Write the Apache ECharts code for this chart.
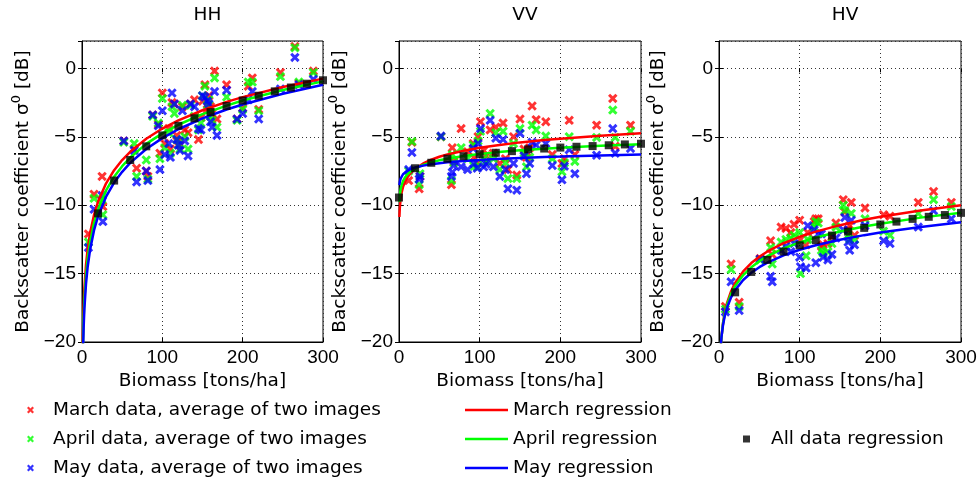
<!DOCTYPE html>
<html><head><meta charset="utf-8">
<script src="https://cdn.jsdelivr.net/npm/echarts@6/dist/echarts.min.js"></script>
<style>html,body{margin:0;padding:0;background:#fff}#c{width:980px;height:486px}</style>
</head><body><div id="c"></div>
<script>
// ---- data ----
const panelTitles = ['HH', 'VV', 'HV'];
const xTickLabels = ['0', '100', '200', '300'];
const yTickLabels = ['-20', '-15', '-10', '-5', '0'];
const seriesNames = ['March data, average of two images', 'April data, average of two images', 'May data, average of two images'];
const regNames = ['March regression', 'April regression', 'May regression'];
const allName = 'All data regression';

const hhX   = [8,15,25,26,52,65,68,80,82,88,95,97,100,103,108,110,112,115,120,125,128,132,135,140,145,150,153,156,160,165,168,180,193,200,207,212,220,247,265,270,288,118,122,148,158,162];
const hhMar = [-12.1,-9.2,-7.9,-10.1,-5.3,-5.9,-7.3,-7.5,-7.9,-3.4,-4.1,-6.2,-1.8,-5.5,-4.4,-5.9,-2.5,-2.6,-5.3,-2.8,-4.5,-4.7,-2.6,-2.3,-5.2,-2.4,-1.2,-3.0,-2.8,-0.2,-3.7,-1.2,-3.7,-2.9,-1.3,-0.7,-3.0,-0.3,1.6,-1.1,-0.2,-4.9,-5.6,-3.6,-2.0,-3.3];
const hhApr = [-12.7,-9.5,-9.6,-10.7,-5.4,-5.5,-7.9,-6.7,-8.1,-3.5,-4.0,-6.6,-2.2,-5.8,-4.7,-6.2,-2.8,-3.3,-5.6,-2.7,-5.0,-5.9,-2.7,-3.5,-4.5,-2.0,-1.3,-2.7,-3.5,-0.7,-4.3,-2.1,-3.8,-3.0,-1.0,-1.0,-3.1,-0.6,1.5,-1.0,-0.3,-5.2,-5.9,-4.0,-2.3,-3.8];
const hhMay = [-13.1,-10.3,-9.3,-11.2,-5.3,-6.0,-8.3,-7.5,-8.2,-3.4,-4.2,-7.4,-3.1,-6.3,-5.5,-6.5,-1.8,-2.6,-5.6,-3.1,-5.3,-6.4,-2.6,-2.8,-4.4,-2.0,-2.1,-2.4,-3.9,-1.7,-4.9,-1.6,-3.7,-3.3,-2.3,-1.7,-3.7,-1.5,0.8,-1.2,-0.8,-5.2,-6.0,-4.5,-2.6,-4.3];

const vvX   = [12,16,25,26,52,65,66,68,77,85,92,93,98,101,105,113,117,120,125,129,135,142,146,150,158,162,165,170,182,190,202,205,211,218,245,265,268,287,108,132,155,97];
const vvMar = [-8.2,-5.4,-8.8,-7.9,-5.0,-8.5,-5.8,-6.8,-4.4,-6.1,-5.5,-6.5,-5.0,-3.9,-6.0,-4.5,-6.2,-4.3,-6.95,-4.0,-7.4,-5.0,-7.8,-3.7,-6.5,-5.8,-2.75,-3.75,-3.9,-6.3,-6.95,-6.6,-3.8,-6.3,-4.15,-2.2,-5.7,-4.15,-6.4,-6.6,-5.9,-6.9];
const vvApr = [-7.5,-5.35,-8.5,-7.7,-5.0,-8.2,-6.3,-6.9,-5.8,-6.6,-5.6,-7.15,-5.3,-4.6,-6.6,-3.3,-6.6,-4.7,-7.4,-4.6,-8.05,-5.5,-8.05,-4.4,-7.2,-6.5,-4.15,-4.5,-4.95,-6.6,-7.55,-6.9,-5.0,-6.8,-5.05,-3.05,-5.05,-4.6,-6.8,-6.9,-6.2,-7.2];
const vvMay = [-7.4,-6.15,-8.1,-7.9,-4.95,-7.9,-7.6,-7.1,-7.2,-7.4,-5.85,-6.95,-5.5,-4.4,-7.2,-3.8,-7.2,-5.1,-7.9,-5.2,-8.8,-6.95,-8.9,-4.75,-7.7,-6.95,-5.4,-5.6,-5.5,-7.1,-8.15,-7.15,-5.95,-7.7,-6.35,-4.4,-6.2,-5.85,-7.0,-7.4,-6.4,-7.3];

const hvX   = [8,15,25,51,64,66,77,83,89,93,100,101,108,110,118,120,123,127,129,135,140,145,154,156,160,162,164,168,181,204,212,247,266,288];
const hvMar = [-17.4,-14.3,-17.1,-13.9,-12.6,-13.6,-11.6,-11.7,-12.0,-11.4,-11.1,-12.5,-12.9,-12.0,-11.2,-11.0,-11.0,-13.0,-12.9,-12.8,-12.3,-11.3,-9.6,-10.5,-11.8,-11.5,-9.8,-12.2,-10.2,-10.7,-10.8,-9.8,-9.0,-9.8];
const hvApr = [-17.6,-14.7,-17.4,-14.0,-13.1,-14.3,-12.7,-12.5,-12.4,-12.2,-12.0,-15.0,-13.7,-12.5,-11.6,-11.2,-11.3,-13.3,-13.5,-13.4,-12.8,-11.6,-10.0,-10.4,-12.2,-12.5,-10.6,-12.5,-11.0,-11.9,-12.2,-10.6,-9.6,-10.1];
const hvMay = [-17.8,-15.6,-17.7,-13.95,-15.2,-15.6,-13.3,-13.0,-13.4,-12.8,-13.8,-14.5,-14.6,-11.5,-11.8,-14.2,-12.1,-12.1,-13.8,-14.0,-13.6,-12.4,-11.8,-10.9,-12.7,-13.3,-11.1,-12.9,-11.5,-12.6,-12.8,-11.6,-10.4,-11.0];

const regX = [0.5,1,2,3,5,7,10,15,20,30,40,50,60,80,100,120,150,180,200,250,300];
const hhRegMar = [-21.99,-19.69,-17.39,-16.04,-14.35,-13.23,-12.05,-10.70,-9.74,-8.40,-7.44,-6.70,-6.10,-5.14,-4.40,-3.80,-3.06,-2.45,-2.10,-1.36,-0.75];
const hhRegApr = [-23.08,-20.68,-18.29,-16.88,-15.12,-13.95,-12.72,-11.31,-10.32,-8.92,-7.92,-7.15,-6.52,-5.52,-4.75,-4.12,-3.35,-2.72,-2.35,-1.58,-0.95];
const hhRegMay = [-23.91,-21.45,-18.99,-17.55,-15.74,-14.54,-13.28,-11.83,-10.81,-9.37,-8.35,-7.56,-6.91,-5.89,-5.10,-4.45,-3.66,-3.01,-2.64,-1.85,-1.20];
const vvRegMar = [-10.86,-10.2,-9.54,-9.15,-8.66,-8.34,-8.0,-7.61,-7.34,-6.95,-6.68,-6.46,-6.29,-6.02,-5.80,-5.63,-5.41,-5.24,-5.14,-4.93,-4.75];
const vvRegApr = [-9.76,-9.3,-8.84,-8.57,-8.24,-8.02,-7.78,-7.51,-7.32,-7.06,-6.87,-6.72,-6.60,-6.41,-6.26,-6.14,-5.99,-5.87,-5.80,-5.66,-5.54];
const vvRegMay = [-8.54,-8.3,-8.06,-7.92,-7.74,-7.62,-7.49,-7.35,-7.25,-7.11,-7.01,-6.93,-6.87,-6.77,-6.69,-6.62,-6.55,-6.48,-6.45,-6.37,-6.30];
const hvRegMar = [-23.44,-21.98,-20.52,-19.67,-18.6,-17.89,-17.14,-16.29,-15.69,-14.84,-14.23,-13.77,-13.38,-12.78,-12.31,-11.93,-11.46,-11.07,-10.85,-10.39,-10.0];
const hvRegApr = [-23.21,-21.84,-20.47,-19.66,-18.65,-17.99,-17.28,-16.48,-15.91,-15.11,-14.54,-14.09,-13.73,-13.16,-12.72,-12.36,-11.92,-11.56,-11.35,-10.91,-10.55];
const hvRegMay = [-22.96,-21.69,-20.42,-19.68,-18.75,-18.13,-17.48,-16.73,-16.21,-15.47,-14.94,-14.53,-14.2,-13.67,-13.26,-12.93,-12.52,-12.19,-12.0,-11.59,-11.25];

const allX  = [0,20,40,60,80,100,120,140,160,180,200,220,240,260,280,300];
const hhAll = [null,-10.6,-8.2,-6.7,-5.7,-4.9,-4.2,-3.65,-3.2,-2.75,-2.35,-2.0,-1.68,-1.4,-1.12,-0.87];
const vvAll = [-9.44,-7.3,-6.9,-6.6,-6.42,-6.27,-6.17,-6.05,-5.92,-5.86,-5.79,-5.73,-5.68,-5.62,-5.56,-5.51];
const hvAll = [null,-16.37,-14.88,-14.0,-13.39,-12.93,-12.56,-12.22,-11.93,-11.66,-11.41,-11.2,-11.0,-10.85,-10.72,-10.56];

// ---- build ----
const TFONT = "'DejaVu Sans', 'Liberation Sans', sans-serif";
const NFONT = "'Liberation Sans', Arial, Helvetica, sans-serif";
const TS = 18.5, NS = 19;
const colors = ['#ff0000', '#00ff00', '#0000ff'];
const XSYM = 'path://M0,2.2L2.2,0L5,2.8L7.8,0L10,2.2L7.2,5L10,7.8L7.8,10L5,7.2L2.2,10L0,7.8L2.8,5Z';
const zip = (xs, ys) => xs.map((x, i) => [x, ys[i]]);
const minus = v => String(v).replace('-', '\u2212');

const panels = [
  {x: hhX, d: [hhMar, hhApr, hhMay], r: [hhRegMar, hhRegApr, hhRegMay], a: hhAll},
  {x: vvX, d: [vvMar, vvApr, vvMay], r: [vvRegMar, vvRegApr, vvRegMay], a: vvAll},
  {x: hvX, d: [hvMar, hvApr, hvMay], r: [hvRegMar, hvRegApr, hvRegMay], a: hvAll}
];
const gridLefts = [82, 399, 719];
const gridWidths = [241, 242, 242];
const nameGaps = [46, 46, 48];

const grids = [], xAxes = [], yAxes = [], titles = [], series = [];
const tickStyle = {show: true, inside: true, length: 4, lineStyle: {color: '#000', width: 1}};
panels.forEach((p, i) => {
  grids.push({left: gridLefts[i], top: 41, width: gridWidths[i], height: 301, show: true,
    borderColor: '#000', borderWidth: 1, backgroundColor: 'transparent'});
  titles.push({text: panelTitles[i], left: gridLefts[i] + gridWidths[i] / 2, top: 1, textAlign: 'center',
    textStyle: {fontFamily: TFONT, fontSize: TS, fontWeight: 'normal', color: '#000'}});
  xAxes.push({type: 'value', gridIndex: i, min: 0, max: 300, interval: 100, position: 'bottom',
    name: 'Biomass [tons/ha]', nameLocation: 'middle', nameGap: 27,
    nameTextStyle: {fontFamily: TFONT, fontSize: TS, color: '#000'},
    axisLine: {show: true, onZero: false, lineStyle: {color: '#000'}},
    axisTick: tickStyle,
    axisLabel: {fontFamily: NFONT, fontSize: NS, color: '#000', margin: 6,
      formatter: v => xTickLabels[Math.round(v / 100)]},
    splitLine: {show: true, lineStyle: {type: [1, 3], color: '#333', width: 1}}});
  yAxes.push({type: 'value', gridIndex: i, min: -20, max: 2, interval: 5, position: 'left',
    name: '{n|Backscatter coefficient σ}{s|0}{n| [dB]}', nameLocation: 'middle', nameGap: nameGaps[i],
    nameTextStyle: {fontFamily: TFONT, fontSize: TS, color: '#000',
      rich: {n: {fontFamily: TFONT, fontSize: TS, color: '#000', lineHeight: 26},
             s: {fontFamily: TFONT, fontSize: 13, color: '#000', lineHeight: 14, verticalAlign: 'top'}}},
    axisLine: {show: true, onZero: false, lineStyle: {color: '#000'}},
    axisTick: tickStyle,
    axisLabel: {fontFamily: NFONT, fontSize: NS, color: '#000', margin: 6, showMaxLabel: false,
      formatter: v => { const idx = (v + 20) / 5; return Number.isInteger(idx) && yTickLabels[idx] ? minus(yTickLabels[idx]) : ''; }},
    splitLine: {show: true, lineStyle: {type: [1, 3], color: '#333', width: 1}}});
});
panels.forEach((p, i) => {
  xAxes.push({type: 'value', gridIndex: i, min: 0, max: 300, interval: 100, position: 'top',
    axisLine: {show: false}, axisTick: tickStyle, axisLabel: {show: false}, splitLine: {show: false}});
  yAxes.push({type: 'value', gridIndex: i, min: -20, max: 2, interval: 5, position: 'right',
    axisLine: {show: false}, axisTick: tickStyle, axisLabel: {show: false}, splitLine: {show: false}});
});

panels.forEach((p, i) => {
  p.d.forEach((ys, k) => {
    series.push({type: 'scatter', name: seriesNames[k], xAxisIndex: i, yAxisIndex: i, z: 2 + k * 0.1,
      symbol: XSYM, symbolSize: 9.5, itemStyle: {color: colors[k]}, data: zip(p.x, ys), silent: true});
  });
});
panels.forEach((p, i) => {
  p.r.forEach((ys, k) => {
    series.push({type: 'line', name: regNames[k], xAxisIndex: i, yAxisIndex: i, z: 3 + k * 0.1,
      symbol: 'none', showSymbol: false, clip: true, smooth: false,
      lineStyle: {color: colors[k], width: 2.5}, itemStyle: {color: colors[k]}, data: zip(regX, ys)});
  });
});
panels.forEach((p, i) => {
  series.push({type: 'scatter', name: allName, xAxisIndex: i, yAxisIndex: i, z: 4,
    symbol: 'rect', symbolSize: 8, itemStyle: {color: '#000'},
    data: zip(allX, p.a).filter(d => d[1] !== null)});
});

const legendText = {fontFamily: TFONT, fontSize: TS, color: '#000', lineHeight: 20};
const chart = echarts.init(document.getElementById('c'), null, {renderer: 'canvas'});
chart.setOption({
  animation: false,
  backgroundColor: '#fff',
  title: titles,
  grid: grids,
  xAxis: xAxes,
  yAxis: yAxes,
  legend: [
    {data: seriesNames.map(n => ({name: n, icon: XSYM})), orient: 'vertical', left: 22, top: 395,
      itemWidth: 7, itemHeight: 7, itemGap: 9,
      selectedMode: false, textStyle: Object.assign({padding: [0, 0, 0, 14]}, legendText)},
    {data: regNames.map(n => ({name: n, icon: 'rect'})), orient: 'vertical', left: 460, top: 395,
      itemWidth: 43, itemHeight: 2.5, itemGap: 9,
      selectedMode: false, textStyle: Object.assign({padding: [0, 0, 0, 0]}, legendText)},
    {data: [{name: allName, icon: 'rect'}], orient: 'vertical', left: 738, top: 424, itemWidth: 7, itemHeight: 7,
      selectedMode: false, textStyle: Object.assign({padding: [0, 0, 0, 16]}, legendText)}
  ],
  series: series
});
</script></body></html>
